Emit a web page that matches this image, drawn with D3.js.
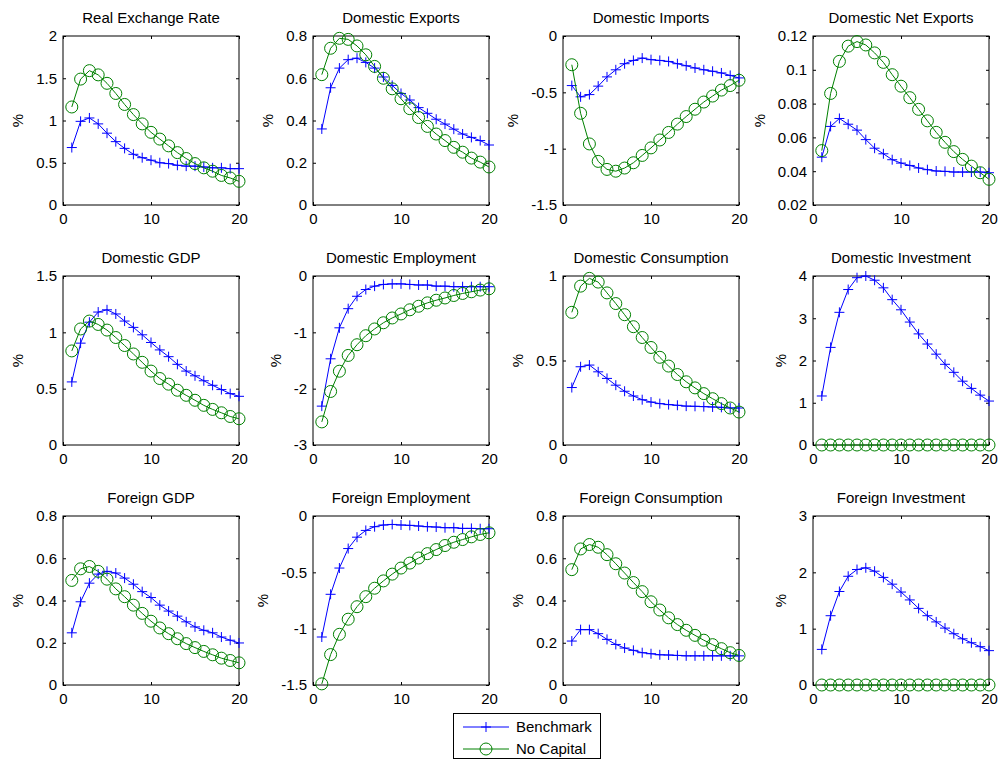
<!DOCTYPE html>
<html>
<head>
<meta charset="utf-8">
<script src="https://cdn.jsdelivr.net/npm/d3@7"></script>
<style>
  html, body { margin: 0; padding: 0; background: #fff; }
  svg { display: block; }
  text { font-family: "Liberation Sans", Arial, sans-serif; fill: #000; }
</style>
</head>
<body>
<script>
// Impulse responses, 20 periods, two model variants
const width = 998;
const height = 761;

const periods = [1, 2, 3, 4, 5, 6, 7, 8, 9, 10, 11, 12, 13, 14, 15, 16, 17, 18, 19, 20];
const xTicks = [0, 10, 20];
const seriesNames = ["Benchmark", "No Capital"];

const titles = [
  "Real Exchange Rate", "Domestic Exports", "Domestic Imports", "Domestic Net Exports",
  "Domestic GDP", "Domestic Employment", "Domestic Consumption", "Domestic Investment",
  "Foreign GDP", "Foreign Employment", "Foreign Consumption", "Foreign Investment"
];

const yTicks = [
  [0, 0.5, 1, 1.5, 2], [0, 0.2, 0.4, 0.6, 0.8], [-1.5, -1, -0.5, 0], [0.02, 0.04, 0.06, 0.08, 0.1, 0.12],
  [0, 0.5, 1, 1.5], [-3, -2, -1, 0], [0, 0.5, 1], [0, 1, 2, 3, 4],
  [0, 0.2, 0.4, 0.6, 0.8], [-1.5, -1, -0.5, 0], [0, 0.2, 0.4, 0.6, 0.8], [0, 1, 2, 3]
];

// Benchmark (blue +) / No Capital (green o)
const rerBench   = [0.68, 0.99, 1.03, 0.96, 0.85, 0.75, 0.67, 0.60, 0.56, 0.53, 0.50, 0.49, 0.47, 0.46, 0.46, 0.45, 0.44, 0.44, 0.43, 0.43];
const rerNoCap   = [1.16, 1.49, 1.59, 1.54, 1.44, 1.32, 1.19, 1.07, 0.96, 0.86, 0.78, 0.70, 0.62, 0.55, 0.49, 0.44, 0.40, 0.35, 0.32, 0.28];
const expBench   = [0.36, 0.555, 0.648, 0.688, 0.695, 0.675, 0.648, 0.606, 0.566, 0.528, 0.497, 0.461, 0.434, 0.406, 0.383, 0.359, 0.336, 0.32, 0.305, 0.284];
const expNoCap   = [0.617, 0.742, 0.789, 0.784, 0.753, 0.711, 0.656, 0.60, 0.55, 0.503, 0.456, 0.414, 0.372, 0.336, 0.305, 0.273, 0.25, 0.222, 0.203, 0.18];
const impBench   = [-0.44, -0.54, -0.52, -0.445, -0.363, -0.30, -0.246, -0.217, -0.196, -0.21, -0.217, -0.226, -0.246, -0.264, -0.284, -0.30, -0.313, -0.328, -0.35, -0.372];
const impNoCap   = [-0.255, -0.686, -0.958, -1.113, -1.184, -1.20, -1.172, -1.125, -1.06, -0.993, -0.923, -0.856, -0.782, -0.715, -0.65, -0.586, -0.533, -0.48, -0.44, -0.393];
const nxBench    = [0.0483, 0.0665, 0.0712, 0.0678, 0.0643, 0.0587, 0.0536, 0.0503, 0.0468, 0.0448, 0.0434, 0.0419, 0.0409, 0.0401, 0.0399, 0.0395, 0.0395, 0.0395, 0.0395, 0.0391];
const nxNoCap    = [0.0522, 0.086, 0.105, 0.114, 0.1167, 0.1147, 0.110, 0.1044, 0.0971, 0.0903, 0.0835, 0.0766, 0.0698, 0.063, 0.0571, 0.0516, 0.047, 0.043, 0.0391, 0.0352];
const gdpBench   = [0.56, 0.904, 1.09, 1.18, 1.20, 1.163, 1.10, 1.044, 0.978, 0.91, 0.844, 0.784, 0.716, 0.656, 0.614, 0.57, 0.53, 0.492, 0.456, 0.432];
const gdpNoCap   = [0.835, 1.03, 1.10, 1.07, 1.02, 0.954, 0.883, 0.808, 0.734, 0.656, 0.59, 0.54, 0.486, 0.441, 0.397, 0.352, 0.316, 0.286, 0.253, 0.233];
const empBench   = [-2.31, -1.47, -0.92, -0.58, -0.36, -0.24, -0.18, -0.15, -0.14, -0.14, -0.15, -0.16, -0.16, -0.18, -0.18, -0.19, -0.19, -0.19, -0.19, -0.19];
const empNoCap   = [-2.59, -2.05, -1.69, -1.41, -1.22, -1.06, -0.94, -0.83, -0.745, -0.674, -0.60, -0.537, -0.477, -0.43, -0.39, -0.346, -0.31, -0.28, -0.25, -0.227];
const conBench   = [0.34, 0.463, 0.473, 0.433, 0.394, 0.354, 0.318, 0.29, 0.268, 0.254, 0.245, 0.239, 0.235, 0.23, 0.229, 0.227, 0.225, 0.223, 0.219, 0.219];
const conNoCap   = [0.785, 0.94, 0.986, 0.964, 0.90, 0.837, 0.771, 0.70, 0.636, 0.577, 0.519, 0.467, 0.417, 0.374, 0.338, 0.304, 0.274, 0.245, 0.219, 0.195];
const invBench   = [1.16, 2.31, 3.14, 3.68, 3.96, 4.0, 3.90, 3.72, 3.44, 3.20, 2.91, 2.63, 2.39, 2.15, 1.91, 1.72, 1.51, 1.34, 1.18, 1.04];
const invNoCap   = [0, 0, 0, 0, 0, 0, 0, 0, 0, 0, 0, 0, 0, 0, 0, 0, 0, 0, 0, 0];
const fgdpBench  = [0.247, 0.394, 0.482, 0.525, 0.538, 0.53, 0.506, 0.477, 0.442, 0.414, 0.378, 0.35, 0.326, 0.299, 0.275, 0.259, 0.247, 0.227, 0.212, 0.199];
const fgdpNoCap  = [0.495, 0.55, 0.561, 0.538, 0.501, 0.455, 0.418, 0.378, 0.339, 0.302, 0.27, 0.243, 0.219, 0.196, 0.177, 0.159, 0.143, 0.127, 0.116, 0.105];
const fempBench  = [-1.074, -0.695, -0.462, -0.289, -0.188, -0.128, -0.095, -0.08, -0.075, -0.08, -0.083, -0.089, -0.095, -0.098, -0.104, -0.104, -0.11, -0.11, -0.113, -0.113];
const fempNoCap  = [-1.49, -1.23, -1.05, -0.916, -0.805, -0.716, -0.641, -0.576, -0.516, -0.462, -0.418, -0.373, -0.334, -0.298, -0.262, -0.233, -0.209, -0.185, -0.164, -0.149];
const fconBench  = [0.208, 0.262, 0.262, 0.243, 0.216, 0.192, 0.175, 0.164, 0.153, 0.148, 0.143, 0.142, 0.14, 0.138, 0.138, 0.138, 0.138, 0.138, 0.138, 0.138];
const fconNoCap  = [0.546, 0.644, 0.665, 0.652, 0.617, 0.574, 0.53, 0.485, 0.442, 0.394, 0.355, 0.318, 0.286, 0.259, 0.235, 0.212, 0.191, 0.172, 0.153, 0.14];
const finvBench  = [0.632, 1.23, 1.66, 1.93, 2.05, 2.08, 2.02, 1.91, 1.79, 1.65, 1.51, 1.36, 1.23, 1.12, 1.01, 0.91, 0.82, 0.75, 0.68, 0.61];
const finvNoCap  = [0, 0, 0, 0, 0, 0, 0, 0, 0, 0, 0, 0, 0, 0, 0, 0, 0, 0, 0, 0];

const benchSeries = [rerBench, expBench, impBench, nxBench, gdpBench, empBench, conBench, invBench, fgdpBench, fempBench, fconBench, finvBench];
const noCapSeries = [rerNoCap, expNoCap, impNoCap, nxNoCap, gdpNoCap, empNoCap, conNoCap, invNoCap, fgdpNoCap, fempNoCap, fconNoCap, finvNoCap];

// --- layout (MATLAB subplot grid) ---
const colLeft = [63, 313, 563, 813];
const rowTop = [36, 276, 516];
const pw = 176, ph = 169;
const fontSize = 15;
const blue = "#0000ff", green = "#008000";
const tick = 3;

const svg = d3.select("body").append("svg")
    .attr("width", width)
    .attr("height", height);

const line = (x, y) => d3.line().x((d, i) => x(periods[i])).y(d => y(d));

// draws a "+" or "o" marker at each point
const drawMarkers = (g, data, x, y, kind, color) => {
    if (kind === "plus") {
        g.selectAll("path.mk")
            .data(data)
            .join("path")
            .attr("class", "mk")
            .attr("d", (d, i) => {
                const cx = x(periods[i]), cy = y(d), r = 5;
                return `M${cx - r},${cy}H${cx + r}M${cx},${cy - r}V${cy + r}`;
            })
            .attr("stroke", color)
            .attr("stroke-width", 1)
            .attr("fill", "none");
    } else {
        g.selectAll("circle.mk")
            .data(data)
            .join("circle")
            .attr("class", "mk")
            .attr("cx", (d, i) => x(periods[i]))
            .attr("cy", d => y(d))
            .attr("r", 6)
            .attr("stroke", color)
            .attr("stroke-width", 1)
            .attr("fill", "none");
    }
};

titles.forEach((title, i) => {
    const left = colLeft[i % 4];
    const top = rowTop[Math.floor(i / 4)];
    const ticks = yTicks[i];

    const x = d3.scaleLinear().domain([0, 20]).range([left, left + pw]);
    const y = d3.scaleLinear().domain([ticks[0], ticks[ticks.length - 1]]).range([top + ph, top]);

    const g = svg.append("g").attr("class", "panel");

    // left / bottom axes with inward ticks
    const yAxis = g.append("g")
        .attr("transform", `translate(${left},0)`)
        .call(d3.axisLeft(y).tickValues(ticks).tickSize(-tick).tickPadding(6).tickFormat(d => String(d)));
    const xAxis = g.append("g")
        .attr("transform", `translate(0,${top + ph})`)
        .call(d3.axisBottom(x).tickValues(xTicks).tickSize(-tick).tickPadding(8).tickFormat(d => String(d)));
    // mirrored ticks on right / top
    g.append("g")
        .attr("transform", `translate(${left + pw},0)`)
        .call(d3.axisRight(y).tickValues(ticks).tickSize(-tick).tickFormat(""));
    g.append("g")
        .attr("transform", `translate(0,${top})`)
        .call(d3.axisTop(x).tickValues(xTicks).tickSize(-tick).tickFormat(""));

    g.selectAll(".domain").remove();
    g.selectAll(".tick line").attr("stroke", "#000");
    g.selectAll(".tick text")
        .attr("font-family", "'Liberation Sans', Arial, sans-serif")
        .attr("font-size", fontSize)
        .attr("fill", "#000");

    // box
    g.append("rect")
        .attr("x", left).attr("y", top)
        .attr("width", pw).attr("height", ph)
        .attr("fill", "none")
        .attr("stroke", "#000")
        .attr("stroke-width", 1);

    // title
    g.append("text")
        .attr("x", left + pw / 2)
        .attr("y", top - 13)
        .attr("text-anchor", "middle")
        .attr("font-size", fontSize)
        .text(title);

    // ylabel sits left of the widest tick label
    let maxW = 0;
    yAxis.selectAll(".tick text").each(function () {
        maxW = Math.max(maxW, this.getComputedTextLength());
    });
    const lx = left - 6 - maxW - 13;
    g.append("text")
        .attr("transform", `translate(${lx},${top + ph / 2}) rotate(-90)`)
        .attr("text-anchor", "middle")
        .attr("font-size", fontSize)
        .text("%");

    // series
    const bench = benchSeries[i], noCap = noCapSeries[i];
    g.append("path")
        .attr("d", line(x, y)(bench))
        .attr("fill", "none").attr("stroke", blue).attr("stroke-width", 1);
    drawMarkers(g.append("g"), bench, x, y, "plus", blue);

    g.append("path")
        .attr("d", line(x, y)(noCap))
        .attr("fill", "none").attr("stroke", green).attr("stroke-width", 1);
    drawMarkers(g.append("g"), noCap, x, y, "circle", green);
});

// --- legend ---
const legend = svg.append("g").attr("class", "legend");
legend.append("rect")
    .attr("x", 453.5).attr("y", 713.5)
    .attr("width", 147).attr("height", 45)
    .attr("fill", "#fff")
    .attr("stroke", "#000");

const legendColors = [blue, green];
const legendKinds = ["plus", "circle"];
seriesNames.forEach((name, k) => {
    const cy = 727 + k * 22;
    const row = legend.append("g");
    row.append("line")
        .attr("x1", 463).attr("x2", 509)
        .attr("y1", cy).attr("y2", cy)
        .attr("stroke", legendColors[k]);
    const lx = d3.scaleLinear().domain([0, 1]).range([486, 486]);
    const ly = d3.scaleLinear().domain([0, 1]).range([cy, cy]);
    if (legendKinds[k] === "plus") {
        row.append("path")
            .attr("d", `M${lx(0) - 5},${ly(0)}H${lx(0) + 5}M${lx(0)},${ly(0) - 5}V${ly(0) + 5}`)
            .attr("stroke", legendColors[k]).attr("fill", "none");
    } else {
        row.append("circle")
            .attr("cx", lx(0)).attr("cy", ly(0)).attr("r", 6)
            .attr("stroke", legendColors[k]).attr("fill", "none");
    }
    row.append("text")
        .attr("x", 516)
        .attr("y", cy)
        .attr("dy", "0.35em")
        .attr("font-size", fontSize)
        .text(name);
});
</script>
</body>
</html>
